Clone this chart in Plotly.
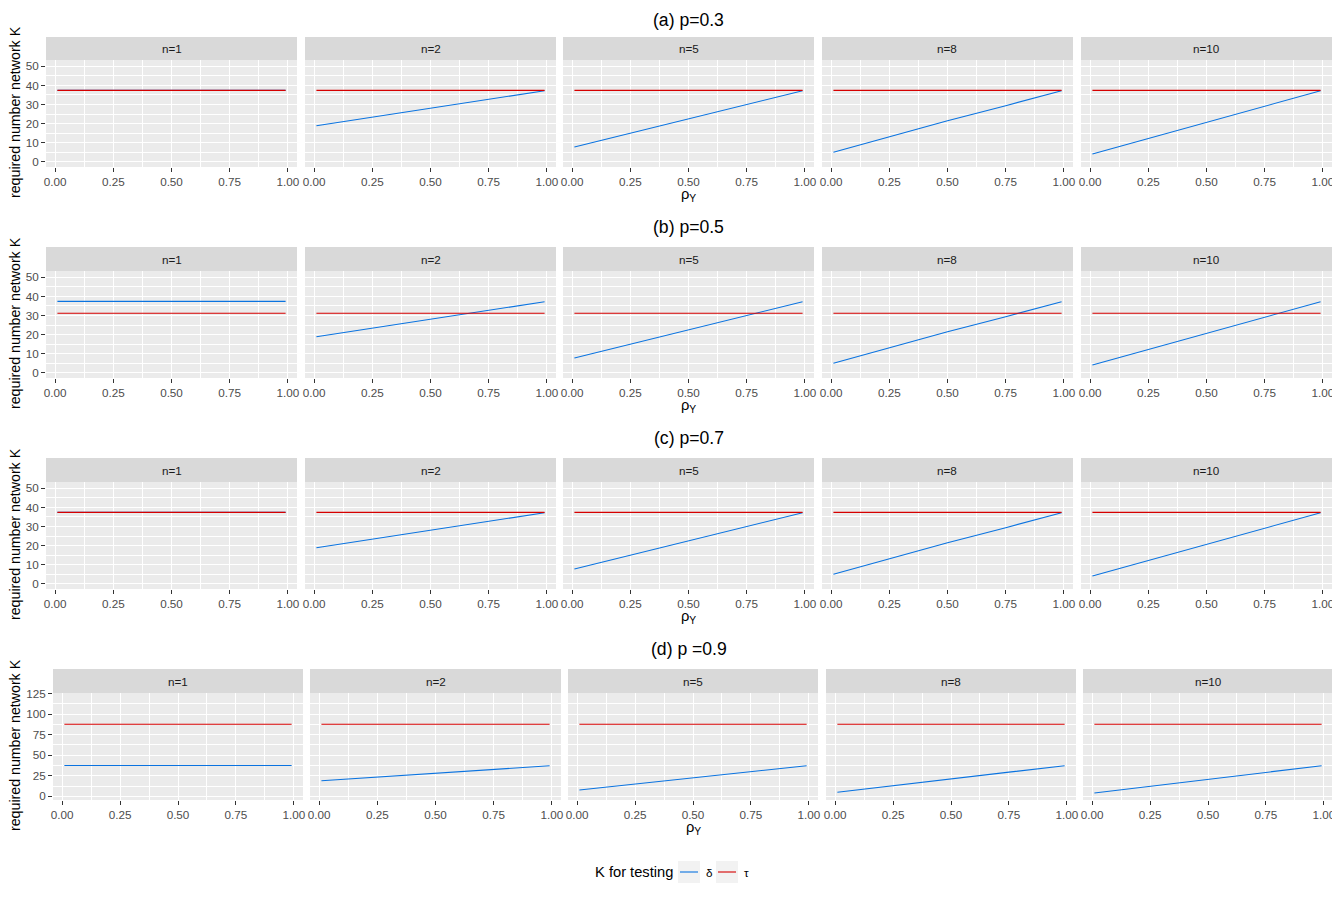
import plotly.graph_objects as go

W, H = 1340, 900

# ---------------- data ----------------
row_titles = ["(a) p=0.3", "(b) p=0.5", "(c) p=0.7", "(d) p =0.9"]
facet_labels = ["n=1", "n=2", "n=5", "n=8", "n=10"]
rho = [0.01, 0.25, 0.5, 0.75, 0.99]

# K for testing delta (same for every p), one list per n
delta_n1 = [37.4, 37.4, 37.4, 37.4, 37.4]
delta_n2 = [18.9, 23.4, 28.1, 32.7, 37.2]
delta_n5 = [7.8, 14.9, 22.4, 29.9, 37.2]
delta_n8 = [5.0, 13.2, 21.5, 29.4, 37.2]
delta_n10 = [4.1, 12.2, 20.6, 29.0, 37.2]
delta_by_n = [delta_n1, delta_n2, delta_n5, delta_n8, delta_n10]

# K for testing tau (constant in rho and n), one value per p
tau_by_p = [37.4, 31.2, 37.4, 87.5]

x_ticks = [0, 0.25, 0.5, 0.75, 1.0]
x_ticktext = ["0.00", "0.25", "0.50", "0.75", "1.00"]
y_ticks_small = [0, 10, 20, 30, 40, 50]
y_ticks_large = [0, 25, 50, 75, 100, 125]

BLUE = "#0a73e0"
RED = "#d60000"
FONT = "Liberation Sans, Arial, sans-serif"

# ---------------- layout geometry (target pixels) ----------------
strip_top = [37, 247, 458, 669]
plot_top = [60, 271, 482, 693]
plot_bot = [167, 378, 589, 800]
title_y = [16, 227, 438, 649]
xlab_y = [195, 406, 617, 828]
ytitle_y = [112, 323, 534, 745]
cols_std = [(46, 297), (305, 556), (563, 814), (822, 1073), (1081, 1332)]
cols_d = [(53, 303), (310, 561), (568, 818), (826, 1076), (1083, 1333)]

OFF = 8  # page body margin in the browser


def px(x):
    return (x - OFF) / W


def py(y):
    return 1 - (y - OFF) / H


fig = go.Figure()
layout = {}
shapes = []
annotations = []

for r in range(4):
    cols = cols_d if r == 3 else cols_std
    if r == 3:
        yrange = [-4.4, 125.5]
        yt = y_ticks_large
        yminor = [12.5, 37.5, 62.5, 87.5, 112.5]
    else:
        yrange = [-2.7, 53.3]
        yt = y_ticks_small
        yminor = [5, 15, 25, 35, 45]
    for c in range(5):
        idx = r * 5 + c + 1
        xa = "xaxis" if idx == 1 else f"xaxis{idx}"
        ya = "yaxis" if idx == 1 else f"yaxis{idx}"
        xr = "x" if idx == 1 else f"x{idx}"
        yr = "y" if idx == 1 else f"y{idx}"
        x0, x1 = cols[c]
        layout[xa] = dict(
            domain=[px(x0), px(x1)], anchor=yr, range=[-0.039, 1.039],
            tickvals=x_ticks, ticktext=x_ticktext, ticks="outside", ticklen=4,
            tickcolor="#333333", tickwidth=1, automargin=False,
            tickfont=dict(family=FONT, size=11.7, color="#4d4d4d"),
            showgrid=True, gridcolor="white", gridwidth=1.2, zeroline=False,
            showline=False, fixedrange=True,
            minor=dict(tickvals=[0.125, 0.375, 0.625, 0.875], showgrid=True,
                       gridcolor="white", gridwidth=0.6, ticks=""),
        )
        layout[ya] = dict(
            domain=[py(plot_bot[r]), py(plot_top[r])], anchor=xr, range=yrange,
            tickvals=yt, ticks="outside" if c == 0 else "", ticklen=4,
            tickcolor="#333333", tickwidth=1, showticklabels=(c == 0),
            automargin=False,
            tickfont=dict(family=FONT, size=11.7, color="#4d4d4d"),
            showgrid=True, gridcolor="white", gridwidth=1.2, zeroline=False,
            showline=False, fixedrange=True,
            minor=dict(tickvals=yminor, showgrid=True, gridcolor="white",
                       gridwidth=0.6, ticks=""),
        )
        # data traces
        fig.add_trace(go.Scatter(
            x=rho, y=delta_by_n[c], mode="lines", xaxis=xr, yaxis=yr,
            line=dict(color=BLUE, width=1.1), showlegend=False, name="δ"))
        fig.add_trace(go.Scatter(
            x=[rho[0], rho[-1]], y=[tau_by_p[r], tau_by_p[r]], mode="lines",
            xaxis=xr, yaxis=yr, line=dict(color=RED, width=1.1),
            showlegend=False, name="τ"))
        # strip
        shapes.append(dict(type="rect", xref="paper", yref="paper",
                           x0=px(x0), x1=px(x1), y0=py(plot_top[r]), y1=py(strip_top[r]),
                           fillcolor="#d9d9d9", line=dict(width=0), layer="below"))
        annotations.append(dict(text=facet_labels[c], xref="paper", yref="paper",
                                x=px((x0 + x1) / 2), y=py((strip_top[r] + plot_top[r]) / 2),
                                showarrow=False, xanchor="center", yanchor="middle",
                                font=dict(family=FONT, size=11.7, color="#1a1a1a")))
    # row title (first one anchored to the top edge so it is never clipped)
    if r == 0:
        annotations.append(dict(text=row_titles[r], xref="paper", yref="paper",
                                x=px(689), y=1, showarrow=False,
                                xanchor="center", yanchor="top",
                                font=dict(family=FONT, size=17.6, color="black")))
    else:
        annotations.append(dict(text=row_titles[r], xref="paper", yref="paper",
                                x=px(689), y=py(title_y[r]), showarrow=False,
                                xanchor="center", yanchor="middle",
                                font=dict(family=FONT, size=17.6, color="black")))
    # x axis title
    mid = (cols[2][0] + cols[2][1]) / 2
    annotations.append(dict(text="ρ<sub>Y</sub>", xref="paper", yref="paper",
                            x=px(mid), y=py(xlab_y[r]), showarrow=False,
                            xanchor="center", yanchor="middle",
                            font=dict(family=FONT, size=14.7, color="black")))
    # y axis title
    annotations.append(dict(text="required number network K", xref="paper", yref="paper",
                            x=px(15), y=py(ytitle_y[r]), showarrow=False, textangle=-90,
                            xanchor="center", yanchor="middle",
                            font=dict(family=FONT, size=14.2, color="black")))

# ---------------- legend (drawn manually, ggplot style) ----------------
leg_y = 872
annotations.append(dict(text="K for testing", xref="paper", yref="paper",
                        x=px(593), y=py(leg_y), showarrow=False, xanchor="left",
                        yanchor="middle", font=dict(family=FONT, size=14.7, color="black")))
legend_items = [("δ", BLUE, 678), ("τ", RED, 716)]
for lab, col, bx in legend_items:
    shapes.append(dict(type="rect", xref="paper", yref="paper",
                       x0=px(bx), x1=px(bx + 22), y0=py(leg_y + 11), y1=py(leg_y - 11),
                       fillcolor="#f2f2f2", line=dict(width=0)))
    shapes.append(dict(type="line", xref="paper", yref="paper",
                       x0=px(bx + 2), x1=px(bx + 20), y0=py(leg_y), y1=py(leg_y),
                       line=dict(color=col, width=1.1)))
    annotations.append(dict(text=lab, xref="paper", yref="paper",
                            x=px(bx + 26), y=py(leg_y), showarrow=False, xanchor="left",
                            yanchor="middle", font=dict(family=FONT, size=11.7, color="black")))

fig.update_layout(
    width=W, height=H, margin=dict(l=0, r=0, t=0, b=0, pad=0, autoexpand=False),
    paper_bgcolor="white", plot_bgcolor="#ebebeb",
    shapes=shapes, annotations=annotations, showlegend=False,
    font=dict(family=FONT),
    **layout,
)

fig.write_html("out.html")
